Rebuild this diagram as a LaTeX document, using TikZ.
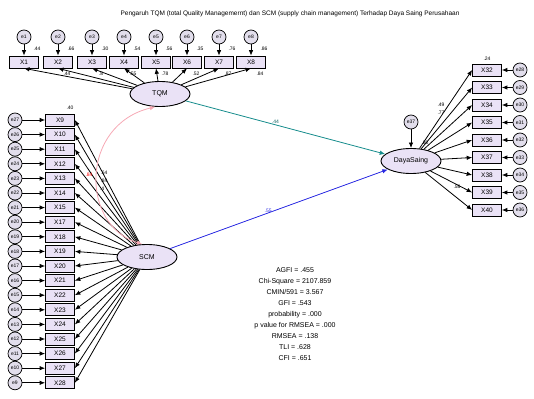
\documentclass[tikz,border=0pt]{standalone}
\usepackage{fontspec}
\setmainfont{Liberation Sans}
\usetikzlibrary{arrows.meta,shapes.geometric,positioning}
\definecolor{boxfill}{RGB}{234,226,246}
\definecolor{errfill}{RGB}{226,222,236}
\definecolor{covpink}{RGB}{246,168,180}
\definecolor{tealline}{RGB}{22,140,140}
\definecolor{blueline}{RGB}{40,40,225}

\begin{document}
\begin{tikzpicture}[x=1pt,y=-1pt,
    obs/.style={draw,line width=0.7pt,fill=boxfill,minimum width=29pt,minimum height=12pt,inner sep=0pt,font=\fontsize{6.5}{7}\selectfont},
    err/.style={circle,draw,line width=0.7pt,fill=errfill,minimum size=14pt,inner sep=0pt,font=\fontsize{5}{5}\selectfont},
    lat/.style={ellipse,draw,line width=0.9pt,fill=boxfill,minimum width=60pt,minimum height=25pt,inner sep=0pt,font=\fontsize{7}{8}\selectfont},
    arr/.style={-{Latex[length=5.5pt,width=4.5pt]},line width=0.8pt},
    val/.style={font=\fontsize{5}{5}\selectfont,inner sep=0.5pt}]
  \useasboundingbox (0,0) rectangle (534,398);
  \node[font=\fontsize{6.5}{7}\selectfont] (title) at (290,14) {Pengaruh TQM (total Quality Managemernt) dan SCM (supply chain management) Terhadap Daya Saing Perusahaan};

  % latent variables
  \node[lat] (tqm) at (160,94) {TQM};
  \node[lat] (scm) at (147,257) {SCM};
  \node[lat] (daya) at (411,161) {DayaSaing};
  \node[err] (e37) at (411,122) {e37};
  \draw[arr] (e37) -- (daya);
  \node[val] at (425,143) {.80};

  % TQM indicators
  \foreach \i/\xx/\r/\l in {1/24/.44/,2/58/.66/.44,3/92/.30/.8,4/124/.54/.55,5/156/.56/.78,6/187/.35/.52,7/219/.76/.87,8/251/.86/.84} {
    \node[obs] (xt\i) at (\xx,62) {X\i};
    \node[err] (e\i) at (\xx,37) {e\i};
    \draw[arr] (e\i) -- (xt\i);
    \draw[arr] (tqm) -- (xt\i.south);
    \node[val] at (\xx+13,49) {\r};
    \node[val] at (\xx+9,74) {\l};
  }

  % SCM indicators
  \foreach \lab [count=\i, evaluate=\i as \ee using int(28-\i), evaluate=\i as \yy using 120+(\i-1)*14.6] in {9,10,11,12,13,14,15,17,18,19,20,21,22,23,24,25,26,27,28} {
    \node[obs] (xl\i) at (60,\yy) {X\lab};
    \node[err] (el\i) at (15,\yy) {e\ee};
    \draw[arr] (el\i) -- (xl\i);
    \draw[arr] (scm) -- (xl\i.east);
  }
  \node[val] at (70,108) {.40};
  \node[val,text=red] at (89,175) {.84};
  \node[val] at (104,173) {.64};
  \node[val] at (104,181) {.84};
  \node[val] at (102,189) {.4};

  % DayaSaing indicators
  \foreach \lab [count=\i, evaluate=\i as \ee using int(27+\i), evaluate=\i as \yy using 70+(\i-1)*17.5] in {32,...,40} {
    \node[obs] (xr\i) at (487,\yy) {X\lab};
    \node[err] (er\i) at (520,\yy) {e\ee};
    \draw[arr] (er\i) -- (xr\i);
    \draw[arr] (daya) -- (xr\i.west);
  }
  \node[val] at (487,59) {.24};
  \node[val] at (441,105) {.49};
  \node[val] at (441,113) {.77};
  \node[val] at (457,187) {.58};

  % structural paths
  \draw[covpink,line width=0.8pt,{Latex[length=5.5pt,width=4.5pt]}-{Latex[length=5.5pt,width=4.5pt]}] (tqm.250) .. controls (80,125) and (80,225) .. (scm.110);
  \draw[arr,tealline] (tqm) -- node[val,above,pos=0.45,text=tealline!70!black] {.44} (daya);
  \draw[arr,blueline] (scm) -- node[val,above,pos=0.45,text=blueline] {.55} (daya);

  % fit indices
  \node[align=center,font=\fontsize{7}{11}\selectfont] (fit) at (295,314) {AGFI = .455\\Chi-Square = 2107.859\\CMIN/591 = 3.567\\GFI = .543\\probability = .000\\p value for RMSEA = .000\\RMSEA = .138\\TLI = .628\\CFI = .651};
\end{tikzpicture}
\end{document}
